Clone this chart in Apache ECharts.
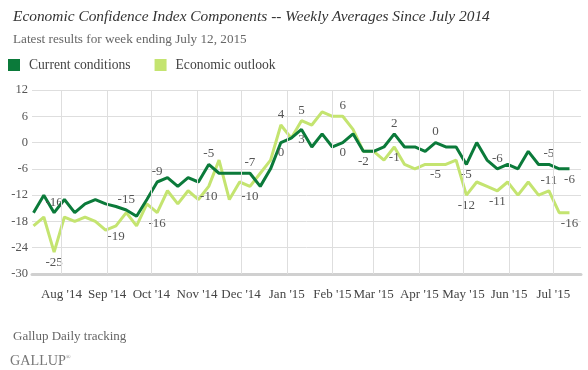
<!DOCTYPE html>
<html>
<head>
<meta charset="utf-8">
<script src="https://cdn.jsdelivr.net/npm/echarts@6/dist/echarts.min.js"></script>
<style>
html,body{margin:0;padding:0;background:#fff;}
#c{width:588px;height:370px;}
</style>
</head>
<body>
<div id="c"></div>
<script>
// ---- data ----
const monthLabels = ["Aug '14","Sep '14","Oct '14","Nov '14","Dec '14","Jan '15","Feb '15","Mar '15","Apr '15","May '15","Jun '15","Jul '15"];
// month starts, in weeks since first week (week ending July 13, 2014)
const monthStartWeeks = [2.714, 7.143, 11.43, 15.86, 20.14, 24.57, 29, 33, 37.43, 41.71, 46.14, 50.43];
const currentConditions = [-16,-12,-16,-13,-16,-14,-13,-14,-14.6,-15.4,-16.8,-13,-9,-8,-10,-8,-9,-5,-7,-7,-7,-7,-10,-6,0,1,3,-1,2,-1,0,2,-2,-2,-1,2,-1,-1,-2,0,-1,-1,-5,0,-4,-6,-5,-6,-2,-5,-5,-6,-6];
const economicOutlook = [-19,-17,-25,-17,-18,-17,-18,-20,-19,-16,-19,-14,-16,-11,-14,-11,-13,-10,-4,-13,-9,-10,-7,-4,4,1,5,4,7,6,6,3,-2,-2,-4,-1,-5,-6,-5,-5,-5,-4,-12,-9,-10,-11,-9,-12,-9,-12,-11,-16,-16];
const yTicks = {min:-30, max:12, step:6};
// labelled points (indices)
const currentLabelsAbove = [2,9,12,17,21,35,39,45,50];
const currentLabelsBelow = [24,26,30,32,42,52];
const outlookLabelsAbove = [24,26,30,50];
const outlookLabelsBelow = [2,8,12,17,21,35,39,42,45,52];

const DARK = '#0b7a3a', LIGHT = '#c4e470';
const SERIF = '"Liberation Serif","DejaVu Serif",serif';
const labelText = {fontFamily: SERIF, fontSize: 13, color: '#555'};

function build(values, above, below){
  return values.map((v,i)=>{
    const item = {value:[i,v]};
    const lab = above.includes(i) || below.includes(i);
    item.label = lab ? Object.assign({show:true, position: above.includes(i)?'top':'bottom', distance:4,
        formatter: ()=>String(Math.round(v))}, labelText) : {show:false};
    return item;
  });
}

const chart = echarts.init(document.getElementById('c'), null, {renderer:'canvas'});
chart.setOption({
  animation:false,
  title:[
    {text:'Economic Confidence Index Components -- Weekly Averages Since July 2014', left:8, top:4,
     textStyle:{fontFamily:SERIF, fontStyle:'italic', fontWeight:'normal', fontSize:15.4, color:'#333'}},
    {text:'Latest results for week ending July 12, 2015', left:8, top:28,
     textStyle:{fontFamily:SERIF, fontWeight:'normal', fontSize:13.2, color:'#666'}},
    {text:'Gallup Daily tracking', left:8, top:325,
     textStyle:{fontFamily:SERIF, fontWeight:'normal', fontSize:13, color:'#666'}},
    {text:'GALLUP{r|®}', left:5, top:349,
     textStyle:{fontFamily:SERIF, fontWeight:'normal', fontSize:14.2, color:'#777',
       rich:{r:{fontFamily:SERIF, fontSize:6, color:'#777', verticalAlign:'top', padding:[0,0,8,0]}}}}
  ],
  legend:{left:3, top:53, itemWidth:12, itemHeight:12, itemGap:24, icon:'rect',
    textStyle:{fontFamily:SERIF, fontSize:13.6, color:'#444', padding:[0,0,0,4]},
    data:['Current conditions','Economic outlook']},
  grid:{left:32, right:7, top:90, bottom:96},
  xAxis:{type:'value', min:-0.1455, max:53.116,
     axisLine:{show:true, onZero:false, lineStyle:{color:'#d0d0d0', width:3}},
     axisTick:{show:false}, axisLabel:{show:false}, splitLine:{show:false}},
  yAxis:{type:'value', min:yTicks.min, max:yTicks.max, interval:yTicks.step,
     axisLine:{show:false}, axisTick:{show:false},
     axisLabel:{fontFamily:SERIF, fontSize:12.5, color:'#555', margin:4},
     splitLine:{lineStyle:{color:'#dedede', width:1}}},
  series:[
    {type:'line', name:'grid', data:[], silent:true, z:1,
     markLine:{silent:true, symbol:'none',
       lineStyle:{color:'#dedede', width:1, type:'solid'},
       label:{show:true, position:'end', distance:14, formatter:p=>p.name,
         fontFamily:SERIF, fontSize:13, color:'#444'},
       data: monthStartWeeks.map((w,i)=>[{name:monthLabels[i], coord:[w,yTicks.max]},{coord:[w,yTicks.min]}])}},
    {type:'line', name:'Economic outlook', z:3,
     data: build(economicOutlook, outlookLabelsAbove, outlookLabelsBelow),
     showSymbol:true, symbol:'circle', symbolSize:0.01, lineStyle:{color:LIGHT, width:3}, itemStyle:{color:LIGHT}},
    {type:'line', name:'Current conditions', z:4,
     data: build(currentConditions, currentLabelsAbove, currentLabelsBelow),
     showSymbol:true, symbol:'circle', symbolSize:0.01, lineStyle:{color:DARK, width:3}, itemStyle:{color:DARK}}
  ]
});
</script>
</body>
</html>
